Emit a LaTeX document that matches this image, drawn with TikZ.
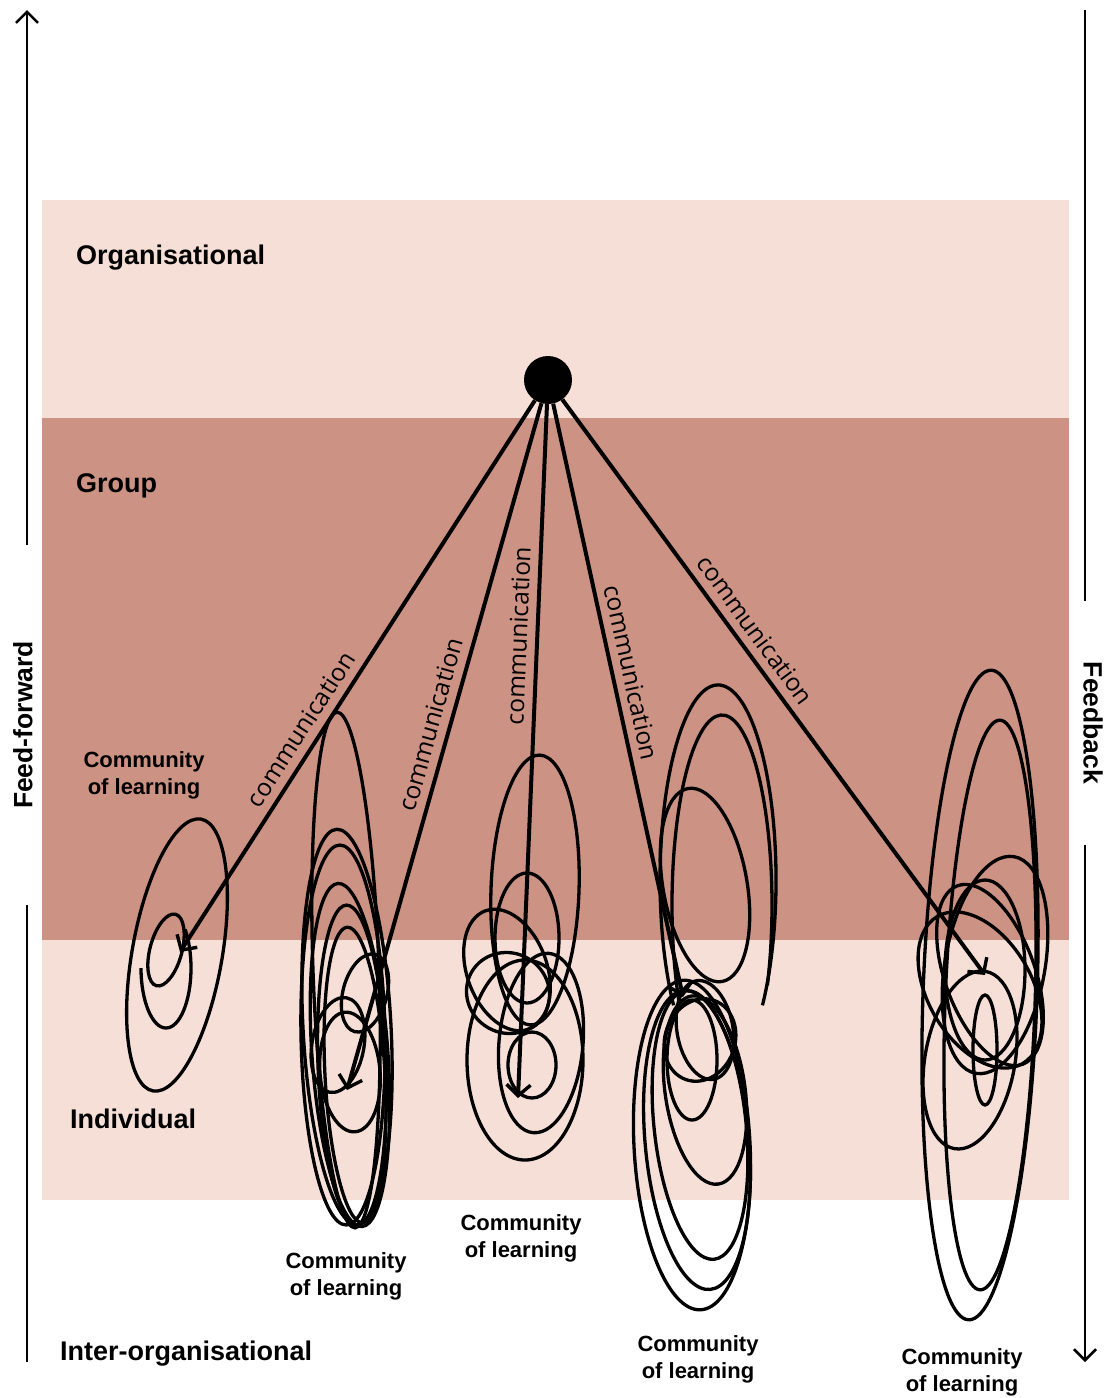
\documentclass[tikz,border=0pt]{standalone}
\usepackage{fontspec}
\setmainfont{Liberation Sans}
\newfontfamily\commfont{Open Sans}
\usetikzlibrary{arrows.meta}
\definecolor{bandlight}{RGB}{246,223,214}
\definecolor{banddark}{RGB}{204,146,131}

\begin{document}
\begin{tikzpicture}[x=1pt,y=-1pt,
  bandlabel/.style={font=\fontsize{27}{30}\selectfont\bfseries, anchor=base west, inner sep=0pt},
  sidelabel/.style={font=\fontsize{26.5}{30}\selectfont\bfseries, inner sep=0pt},
  commlabel/.style={font=\fontsize{22}{27}\selectfont\bfseries, align=center, inner sep=0pt},
  comm/.style={font=\commfont\fontsize{24.5}{28}\selectfont, sloped, above=6pt, inner sep=2pt},
  conn/.style={line width=4pt, -{Straight Barb[length=11pt,width=24pt,line width=3.4pt]}},
  sidearrow/.style={line width=2.6pt},
  sidetip/.style={-{Straight Barb[length=11pt,width=22pt,line width=2.6pt]}},
  scrib/.style={line width=3.3pt},
]
\useasboundingbox (0,0) rectangle (1104,1398);

% the three bands
\fill[bandlight] (42,200) rectangle (1069,418);
\fill[banddark]  (42,418) rectangle (1069,940);
\fill[bandlight] (42,940) rectangle (1069,1200);

% band names
\node[bandlabel] (org)   at (76,264)  {Organisational};
\node[bandlabel] (grp)   at (76,492)  {Group};
\node[bandlabel] (ind)   at (70,1128) {Individual};
\node[bandlabel] (inter) at (60,1360) {Inter-organisational};

% feed-forward (up) and feedback (down)
\coordinate (ffbot) at (27,1362);
\coordinate (fftop) at (27,10);
\node[sidelabel, rotate=90, minimum width=360pt] (ff) at (23,725) {Feed-forward};
\draw[sidearrow] (ffbot) -- (ffbot |- ff.west);
\draw[sidearrow, sidetip] (fftop |- ff.east) -- (fftop);

\coordinate (fbtop) at (1085,10);
\coordinate (fbbot) at (1085,1362);
\node[sidelabel, rotate=-90, minimum width=243pt] (fb) at (1093,723) {Feedback};
\draw[sidearrow] (fbtop) -- (fbtop |- fb.west);
\draw[sidearrow, sidetip] (fbbot |- fb.east) -- (fbbot);

% communities of learning: looping scribbles
% cluster 1
\draw[scrib, rotate around={-10:(177,955)}] (177,955) ellipse [x radius=45, y radius=138];
\draw[scrib, rotate around={-15:(166,950)}] (166,950) ellipse [x radius=16, y radius=37];
\draw[scrib] (141,968) arc[start angle=180, end angle=-40, x radius=25, y radius=60];
% cluster 2
\foreach \cx/\cy/\rx/\ry/\r in {346/970/33/258/2, 347/1027/44/198/3, 343/1035/42/190/1,
    350/1055/38/172/4, 352/1065/34/160/2, 355/1075/30/148/3, 365/993/22/40/-15,
    350/1072/30/60/5, 338/1045/26/48/-10}
  \draw[scrib, rotate around={\r:(\cx,\cy)}] (\cx,\cy) ellipse [x radius=\rx, y radius=\ry];
% cluster 3
\foreach \cx/\cy/\rx/\ry/\r in {535/890/44/135/-2, 527/938/32/65/0, 507/970/40/63/20,
    525/1060/58/100/0, 541/1043/42/90/-5, 532/1065/24/33/0, 508/993/42/40/-30}
  \draw[scrib, rotate around={\r:(\cx,\cy)}] (\cx,\cy) ellipse [x radius=\rx, y radius=\ry];
% cluster 4
\draw[scrib] (673.6,1005.3) arc[start angle=140, end angle=400, x radius=58, y radius=195];
\draw[scrib] (678.7,1000) arc[start angle=150, end angle=385, x radius=50, y radius=190];
\foreach \cx/\cy/\rx/\ry/\r in {705/885/42/98/10, 692/1145/58/165/3, 697/1140/52/150/5,
    700/1125/46/135/6, 705/1090/40/95/8, 700/1040/35/42/-20, 705/1030/28/50/10,
    692/1060/25/60/0}
  \draw[scrib, rotate around={\r:(\cx,\cy)}] (\cx,\cy) ellipse [x radius=\rx, y radius=\ry];
% cluster 5
\foreach \cx/\cy/\rx/\ry/\r in {980/995/57/325/-2, 990/1005/45/285/-2, 995/965/50/110/-10,
    990/975/45/95/20, 985/970/40/90/0, 980/990/52/85/30, 970/1060/45/90/-10,
    985/1050/12/55/0}
  \draw[scrib, rotate around={\r:(\cx,\cy)}] (\cx,\cy) ellipse [x radius=\rx, y radius=\ry];

% community labels
\node[commlabel] (cl1) at (144,775)  {Community\\of learning};
\node[commlabel] (cl2) at (346,1276) {Community\\of learning};
\node[commlabel] (cl3) at (521,1238) {Community\\of learning};
\node[commlabel] (cl4) at (698,1359) {Community\\of learning};
\node[commlabel] (cl5) at (962,1372) {Community\\of learning};

% central source and communication lines
\node[circle, fill=black, minimum size=48pt, inner sep=0pt] (hub) at (548,380) {};
\coordinate (t1) at (180,952);
\coordinate (t2) at (347,1090);
\coordinate (t3) at (518,1098);
\coordinate (t4) at (683,997);
\coordinate (t5) at (985,975);
\draw[conn] (hub) -- node[comm, pos=0.615] (m1) {communication} (t1);
\draw[conn] (hub) -- node[comm, pos=0.475] (m2) {communication} (t2);
\draw[conn] (hub) -- node[comm, pos=0.335] (m3) {communication} (t3);
\draw[conn] (hub) -- node[comm, pos=0.46]  (m4) {communication} (t4);
\draw[conn] (hub) -- node[comm, pos=0.42]  (m5) {communication} (t5);
\end{tikzpicture}
\end{document}
